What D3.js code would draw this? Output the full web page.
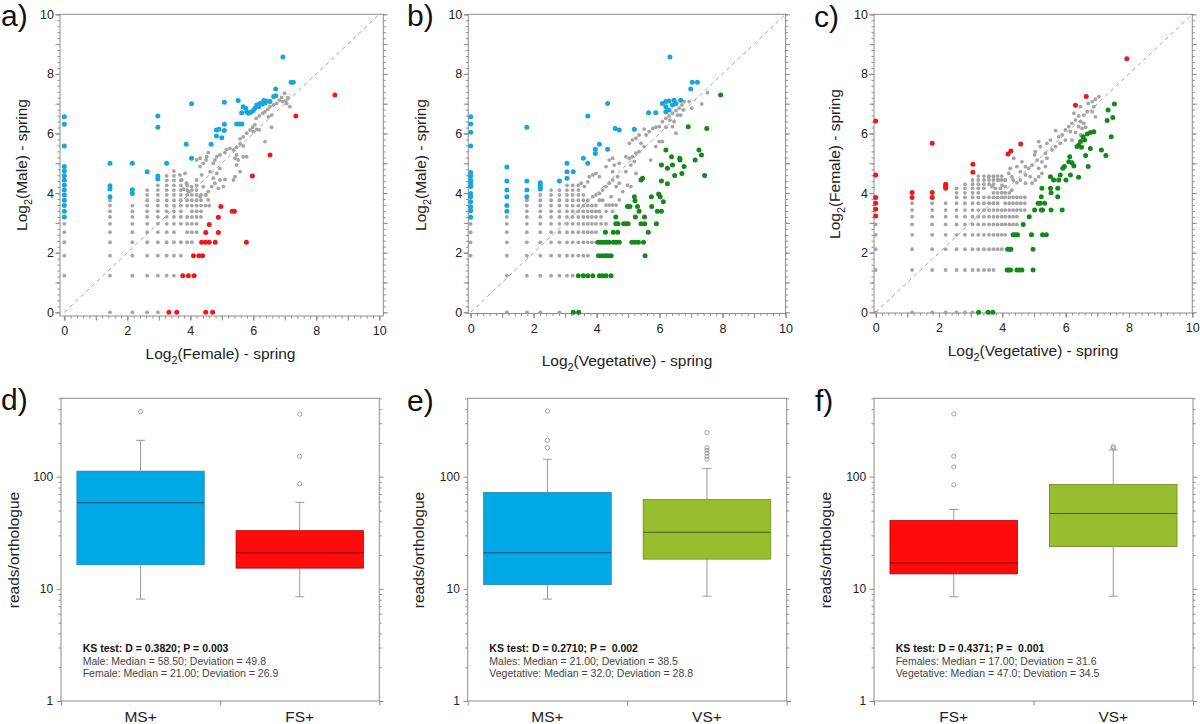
<!DOCTYPE html>
<html><head><meta charset="utf-8">
<script src="https://cdnjs.cloudflare.com/ajax/libs/d3/7.8.5/d3.min.js"></script>
<style>
body{margin:0;background:#fff}
svg{display:block}
text{font-family:"Liberation Sans",Arial,Helvetica,sans-serif}
</style>
</head><body>
<svg id="chart" width="1200" height="724"></svg>
<script>
// ---------------- DATA ----------------
// Panel a: Log2(Female) (x) vs Log2(Male) (y)
const aGridRows = [
  [0,    [1.45, 2.16, 2.63, 2.97]],
  [1.23, [0, 1.45, 2.16, 2.63, 2.97, 3.25, 3.48]],
  [1.90, [0, 1.45, 2.16, 2.63, 2.97, 3.25, 3.48, 3.70]],
  [2.35, [0, 1.45, 2.16, 2.63, 2.97, 3.25, 3.48, 3.70, 3.90, 4.05]],
  [2.69, [0, 1.45, 2.16, 2.63, 2.97, 3.25, 3.48, 3.90, 4.05, 4.20]],
  [2.97, [0, 1.45, 2.16, 2.63, 2.97, 3.25, 3.48, 3.70, 3.90, 4.05, 4.20]],
  [3.20, [1.45, 2.16, 2.63, 2.97, 3.25, 3.48, 3.70, 3.90, 4.05, 4.20, 4.34]],
  [3.39, [1.45, 2.16, 2.63, 2.97, 3.25, 3.48, 3.70, 4.05, 4.20, 4.34]],
  [3.58, [1.45, 2.16, 2.63, 2.97, 3.25, 3.48, 3.70, 3.90, 4.05, 4.20, 4.34, 4.48, 4.60]],
  [3.76, [1.45, 2.63, 2.97, 3.25, 3.48, 3.70, 3.90, 4.05, 4.20, 4.34]],
  [3.94, [2.63, 2.97, 3.25, 3.48, 3.70, 3.90, 4.05, 4.20, 4.34, 4.48]],
  [4.10, [2.63, 2.97, 3.25, 3.48, 3.70, 3.90, 4.05, 4.20]],
  [4.26, [2.97, 3.25, 3.48, 3.70, 3.90, 4.20]],
  [4.43, [3.25, 3.48, 3.70]],
  [4.58, [3.25, 3.48]],
  [4.74, [3.48]]
];
const aGrayBand = [[6.99,7.35],[6.90,7.21],[6.83,7.12],[6.93,7.07],[7.06,7.01],[7.16,6.90],[7.10,7.20],[7.03,7.10],[6.74,7.01],[6.64,6.96],[6.53,6.90],[6.46,6.81],[6.37,6.73],[6.30,6.68],[6.19,6.59],[6.09,6.51],[6.48,6.56],[6.58,6.62],[6.05,6.29],[5.98,6.21],[6.11,6.14],[5.90,6.12],[6.19,6.12],[5.79,6.01],[5.68,5.89],[5.58,5.82],[6.00,6.06],[6.58,6.21],[6.37,5.73],[5.58,5.65],[5.68,5.58],[5.47,5.54],[5.37,5.45],[5.26,5.50],[5.15,5.47],[5.10,5.36],[4.94,5.28],[4.84,5.22],[4.78,5.11],[4.73,5.00],[4.57,5.36],[4.52,5.22],[4.50,5.11],[4.41,5.00],[4.31,5.17],[4.20,5.11],[4.31,4.89],[5.47,5.28],[5.42,5.17],[5.52,5.11],[5.68,5.22],[5.79,5.22],[5.47,4.94],[5.58,4.72],[5.42,4.55],[5.37,4.44],[5.10,4.46],[4.94,4.44],[4.84,4.66],[4.94,4.83],[5.05,4.22],[4.89,4.16],[4.78,4.33],[4.68,4.22],[4.57,4.05],[4.41,4.22],[4.50,3.94],[4.31,3.88],[4.57,3.77],[4.73,4.50],[4.63,4.72],[4.36,4.61],[4.20,4.44],[4.04,4.22],[3.94,4.05],[3.88,4.33],[3.78,4.13],[3.73,4.44],[3.67,4.61],[3.83,4.66]];
const aBlue = [[0,6.56],[0,6.31],[0,5.58],[0,4.89],[0,4.74],[0,4.58],[0,4.43],[0,4.26],[0,4.10],[0,3.94],[0,3.76],[0,3.58],[0,3.39],[0,3.20],
  [1.45,5.00],[1.45,4.25],[1.45,4.14],[1.45,3.88],[2.16,5.00],[2.16,4.11],[2.16,3.99],[2.63,4.72],
  [2.97,6.59],[2.97,6.21],[2.97,4.57],[2.97,4.47],[3.25,5.00],[3.87,5.64],[4.04,7.00],[4.04,5.17],[4.66,5.64],
  [4.83,6.12],[4.91,6.14],[4.83,5.92],[5.00,5.86],[5.08,6.31],[5.08,6.10],[5.08,7.05],
  [5.47,6.32],[5.56,6.32],[5.64,6.32],[5.52,7.11],[5.68,6.90],[5.76,6.85],[5.63,6.70],
  [6.33,7.11],[6.42,7.09],[6.53,7.07],[6.21,7.01],[6.29,6.99],[6.38,7.03],[6.11,6.96],[6.17,6.90],[6.05,6.85],[6.00,6.77],[5.92,6.71],[5.84,6.68],[5.79,6.73],
  [6.71,7.49],[6.71,7.27],[6.65,7.24],[7.20,7.72],[7.27,7.72],[6.94,8.57]];
const aRed = [[8.59,7.29],[7.35,6.59],[6.53,5.28],[5.97,4.57],[4.97,3.55],[5.33,3.39],[5.40,3.39],[4.89,3.19],[4.60,2.95],[4.49,2.68],[4.89,2.68],
  [4.36,2.35],[4.48,2.35],[4.60,2.35],[4.79,2.35],[5.78,2.35],[4.10,1.90],[4.27,1.90],[4.39,1.90],[3.76,1.23],[3.94,1.23],[4.12,1.23],
  [3.32,0],[3.57,0],[4.49,0],[4.71,0]];

// Panel b: Log2(Vegetative) (x) vs Log2(Male) (y)
const bGridRows = [
  [0,    [1.15, 1.785, 2.21, 2.82]],
  [1.23, [1.15, 1.785, 2.21, 2.555, 2.82, 3.06, 3.24]],
  [1.90, [0, 1.15, 1.785, 2.21, 2.555, 2.82, 3.06, 3.24, 3.42, 3.58, 3.72]],
  [2.35, [0, 1.15, 1.785, 2.21, 2.555, 2.82, 3.06, 3.24, 3.42, 3.58, 3.72, 3.85, 3.98]],
  [2.69, [0, 1.15, 1.785, 2.21, 2.555, 2.82, 3.06, 3.24, 3.42, 3.58, 3.72, 3.85, 3.98]],
  [2.97, [0, 1.15, 1.785, 2.21, 2.555, 2.82, 3.06, 3.24, 3.42, 3.58, 3.72, 3.85, 3.98, 4.14, 4.30]],
  [3.20, [1.15, 1.785, 2.21, 2.555, 2.82, 3.06, 3.24, 3.42, 3.58, 3.72, 3.85, 3.98, 4.14]],
  [3.39, [1.785, 2.21, 2.555, 2.82, 3.06, 3.24, 3.42, 3.58, 3.72, 3.85, 3.98, 4.09, 4.30, 4.51]],
  [3.58, [1.785, 2.21, 2.555, 2.82, 3.06, 3.24, 3.42, 3.58, 3.72, 3.85, 3.98]],
  [3.76, [1.785, 2.21, 2.555, 2.82, 3.06, 3.24, 3.42, 3.58, 3.72, 4.09, 4.19]],
  [3.94, [2.21, 2.555, 2.82, 3.06, 3.24, 3.42, 3.58]],
  [4.10, [2.555, 2.82, 3.06, 3.24, 3.42]],
  [4.26, [3.06, 3.24, 3.42]]
];
const bGrayBand = [[7.52,7.37],[7.34,6.99],[7.02,6.85],[6.94,7.07],[6.78,7.07],[6.71,6.96],[6.62,6.85],[6.75,6.79],[6.52,6.77],[6.41,6.68],[6.30,6.59],[6.57,6.62],[6.67,6.62],[6.20,6.51],[6.33,6.45],[6.46,6.40],[6.09,6.40],[5.99,6.23],[5.88,6.21],[5.78,6.17],[6.20,6.21],[6.41,6.23],[6.52,6.01],[5.51,6.15],[5.67,6.06],[5.57,5.95],[5.35,5.95],[5.25,5.84],[5.14,5.78],[5.04,5.67],[5.41,5.67],[5.51,5.56],[5.88,5.56],[5.99,5.73],[6.09,5.73],[5.72,5.11],[5.35,5.39],[5.25,5.34],[5.14,5.22],[5.04,5.17],[4.93,5.22],[5.20,5.06],[5.09,4.94],[5.25,4.66],[4.93,4.72],[4.72,5.00],[4.51,5.17],[4.40,5.11],[4.56,4.94],[4.30,4.89],[4.51,4.72],[4.67,4.55],[4.51,4.44],[4.40,4.33],[4.62,4.22],[4.72,4.33],[4.30,4.22],[4.19,4.10],[4.09,4.55],[3.98,4.66],[3.88,4.61],[3.77,4.55],[4.09,3.99],[3.98,3.94],[3.88,3.88],[3.72,4.38],[3.61,4.22],[3.51,4.33],[4.46,3.88],[4.62,3.60],[4.72,3.77],[4.83,4.05],[4.98,4.27],[5.09,4.22],[4.30,3.60],[4.40,3.60],[4.51,3.60]];
const bBlue = [[0,6.56],[0,6.32],[0,6.04],[0,5.58],[0,4.69],[0,4.58],[0,4.44],[0,4.33],[0,4.22],[0,3.99],[0,3.88],[0,3.71],[0,3.54],[0,3.41],[0,3.19],
  [1.15,4.88],[1.15,4.41],[1.15,4.10],[1.15,3.88],[1.15,3.58],[1.15,3.39],[1.785,6.21],[1.785,4.41],[1.785,4.10],[1.785,3.88],
  [2.21,4.35],[2.21,4.27],[2.21,4.21],[2.21,4.14],[2.82,4.41],[3.06,5.00],[3.06,4.72],[3.06,4.50],[3.26,4.72],[3.58,5.17],[3.72,5.00],[3.72,6.59],
  [3.96,5.33],[3.96,5.47],[4.09,5.64],[4.35,5.47],[4.35,7.01],[4.59,6.17],[4.72,6.12],[5.20,6.14],[5.65,6.70],[5.88,6.70],
  [6.09,7.01],[6.20,7.07],[6.30,7.09],[6.46,7.12],[6.67,7.12],[6.20,6.90],[6.30,6.79],[6.41,6.96],[6.20,6.73],[6.52,7.01],
  [6.99,7.49],[7.04,7.72],[7.20,7.72],[6.33,8.57]];
const bGreen = [[7.94,7.29],[6.91,6.23],[7.50,6.17],[6.20,5.45],[6.38,5.22],[6.64,5.17],[6.65,5.11],[7.25,5.45],[7.33,5.28],[7.13,5.11],[6.06,4.94],[6.25,4.83],[6.41,4.94],[6.78,4.89],[6.48,4.59],[6.71,4.66],[6.06,4.41],[6.25,4.31],[7.43,4.59],[5.41,4.44],[5.46,4.50],
  [5.20,3.88],[5.22,3.74],[4.98,3.55],[5.06,3.55],[5.30,3.55],[5.35,3.39],[5.74,3.88],[5.97,3.97],[6.02,3.88],[6.12,3.71],[5.75,3.55],[5.93,3.39],[6.06,3.39],[5.23,3.20],[5.52,3.20],[5.90,2.97],[4.61,3.20],
  [4.61,2.97],[4.68,2.97],[4.86,2.97],[4.93,2.97],[5.00,2.97],[5.41,2.97],[5.53,2.97],[4.28,2.69],[4.53,2.69],[4.67,2.69],[5.64,2.69],
  [4.05,2.35],[4.14,2.35],[4.22,2.35],[4.31,2.35],[4.40,2.35],[4.53,2.35],[4.62,2.35],[4.72,2.35],[5.12,2.35],[5.22,2.35],[5.33,2.35],[5.49,2.35],
  [4.06,1.90],[4.17,1.90],[4.27,1.90],[4.36,1.90],[4.46,1.90],[5.54,1.90],
  [3.42,1.23],[3.58,1.23],[3.72,1.23],[3.88,1.23],[4.09,1.23],[4.19,1.23],[4.30,1.23],[4.46,1.23],[3.26,0],[3.43,0]];

// Panel c: Log2(Vegetative) (x) vs Log2(Female) (y)
const cGridRows = [
  [0,    [0, 1.15, 1.785, 2.21, 2.555, 2.82, 3.06]],
  [1.42, [0, 1.15, 1.785, 2.21, 2.555, 2.82, 3.06, 3.24, 3.42, 3.58, 3.72]],
  [2.12, [0, 1.15, 1.785, 2.21, 2.555, 2.82, 3.06, 3.24, 3.42, 3.58, 3.72, 3.85, 3.98]],
  [2.60, [0, 1.15, 1.785, 2.21, 2.555, 2.82, 3.06, 3.24, 3.42, 3.58, 3.72, 3.85, 3.98, 4.09]],
  [2.95, [0, 1.15, 1.785, 2.21, 2.555, 2.82, 3.06, 3.24, 3.42, 3.58, 3.72, 3.85, 3.98, 4.09, 4.22, 4.34, 4.46]],
  [3.21, [1.15, 1.785, 2.21, 2.555, 2.82, 3.06, 3.24, 3.42, 3.58, 3.72, 3.85, 3.98, 4.09, 4.22, 4.34, 4.46]],
  [3.43, [1.15, 1.785, 2.21, 2.555, 2.82, 3.06, 3.24, 3.42, 3.58, 3.72, 3.85, 3.98, 4.09, 4.22, 4.34, 4.46, 4.58, 4.71]],
  [3.66, [1.15, 1.785, 2.21, 2.555, 2.82, 3.06, 3.24, 3.42, 3.58, 3.72, 3.85, 4.09, 4.22, 4.34, 4.46, 4.58, 4.71]],
  [3.86, [2.555, 2.82, 3.06, 3.24, 3.42, 3.58, 3.72, 3.85, 3.98, 4.09, 4.22, 4.34, 4.46, 4.58, 4.71]],
  [4.01, [2.555, 2.82, 3.06, 3.24, 3.72, 3.85, 3.98, 4.09, 4.22]],
  [4.16, [2.555, 2.82, 3.06, 3.24, 3.42, 3.78, 3.94]],
  [4.30, [2.82, 3.06, 3.24, 3.42, 3.58, 3.72]],
  [4.44, [3.06, 3.24, 3.42, 3.58, 3.72, 3.85, 3.98, 4.09, 4.34]],
  [4.57, [3.24, 3.42, 3.58, 3.72, 3.85, 3.98]]
];
const cGrayBand = [[7.05,7.24],[6.94,7.15],[6.84,7.07],[6.71,7.01],[6.47,6.90],[6.89,6.90],[6.84,6.73],[6.94,6.56],[6.68,6.73],[6.57,6.62],[6.41,6.59],[6.26,6.68],[6.31,6.45],[6.47,6.40],[6.57,6.34],[6.63,6.21],[6.52,6.17],[6.41,6.23],[6.20,6.34],[6.10,6.23],[5.99,6.12],[6.15,6.06],[6.31,6.03],[6.47,5.95],[6.20,5.78],[5.99,5.78],[5.89,5.95],[5.78,5.89],[5.68,6.10],[5.83,5.67],[5.68,5.56],[5.52,5.78],[5.41,5.67],[5.57,5.45],[5.36,5.33],[5.20,5.56],[5.15,5.73],[5.04,5.39],[5.02,5.28],[5.10,5.11],[5.25,5.05],[5.41,5.17],[5.36,4.89],[5.15,4.83],[4.94,4.94],[4.83,4.83],[4.73,4.89],[4.62,5.05],[4.36,5.17],[4.57,4.72],[4.73,4.61],[4.88,4.55],[5.04,4.44],[5.15,4.55],[5.25,4.66],[4.94,4.33],[4.73,4.33],[4.57,4.44],[4.46,4.35],[4.30,4.55],[4.20,4.66],[4.09,4.44],[3.99,4.27],[3.88,4.44],[3.72,4.55],[3.57,4.55],[3.67,4.22],[4.46,4.89],[4.25,4.83],[4.09,4.22],[4.30,4.10]];
const cRed = [[0,6.42],[0,4.61],[0,3.85],[0,3.66],[0,3.46],[0,3.23],[1.15,4.02],[1.15,3.85],[1.785,5.67],[1.785,4.02],[1.785,3.85],
  [2.21,4.30],[2.21,4.22],[2.21,4.16],[3.07,4.97],[3.07,4.70],[4.18,5.31],[4.27,5.41],[4.58,5.65],[6.31,6.95],[6.65,7.24],[7.93,8.51]];
const cGreen = [[7.54,6.99],[7.34,6.79],[7.49,6.54],[7.31,6.44],[7.44,5.89],[7.13,5.45],[7.27,5.26],[6.89,6.06],[6.78,6.03],[6.68,5.98],[6.55,5.89],[6.60,5.78],[6.47,5.73],[6.41,5.61],[6.36,5.56],[6.50,5.54],[6.78,5.50],[6.63,5.26],[6.71,4.89],[6.41,4.53],
  [6.13,5.22],[6.10,5.05],[6.20,5.02],[6.26,4.91],[5.96,4.89],[5.83,4.61],[6.01,4.44],[6.15,4.61],[5.91,4.83],[5.52,4.55],[5.62,4.44],[5.78,4.44],[5.52,4.16],[5.54,4.01],[5.75,4.16],[5.75,3.88],[5.25,4.16],[5.23,3.88],
  [5.13,3.66],[5.20,3.66],[5.34,3.66],[5.02,3.43],[5.23,3.43],[5.27,3.43],[5.54,3.43],[5.89,3.43],[4.85,3.21],[4.66,2.95],
  [4.34,2.60],[4.41,2.60],[4.48,2.60],[4.92,2.60],[5.27,2.60],[5.39,2.60],[4.17,2.12],[4.23,2.12],[4.27,2.12],[4.97,2.12],
  [4.15,1.42],[4.20,1.42],[4.26,1.42],[4.46,1.42],[4.54,1.42],[4.62,1.42],[4.97,1.42],[3.25,0],[3.55,0],[3.70,0]];

// Box plots (reads/orthologue)
const boxD = [
  {cat:"MS+", lo:8.1, q1:16.4, med:58.5, q3:112, hi:211, out:[380]},
  {cat:"FS+", lo:8.5, q1:15.3, med:21, q3:33, hi:59, out:[361, 152, 86.5]}
];
const boxE = [
  {cat:"MS+", lo:8.1, q1:10.9, med:21, q3:72.3, hi:143, out:[385, 211, 181]},
  {cat:"VS+", lo:8.6, q1:18.4, med:32, q3:62.6, hi:118, out:[247, 181, 172, 162, 152, 143]}
];
const boxF = [
  {cat:"FS+", lo:8.5, q1:13.6, med:17, q3:40.6, hi:51, out:[363, 152, 122, 84.7]},
  {cat:"VS+", lo:8.6, q1:23.8, med:47, q3:85.3, hi:173, out:[185, 180]}
];
const ksD = ["KS test: D = 0.3820; P = 0.003", "Male: Median = 58.50; Deviation = 49.8", "Female: Median = 21.00; Deviation = 26.9"];
const ksE = ["KS test: D = 0.2710; P =  0.002", "Males: Median = 21.00; Deviation = 38.5", "Vegetative: Median = 32.0; Deviation = 28.8"];
const ksF = ["KS test: D = 0.4371; P =  0.001", "Females: Median = 17.00; Deviation = 31.6", "Vegetative: Median = 47.0; Deviation = 34.5"];

const scatterTicks = [0, 2, 4, 6, 8, 10];
const boxTicks = [1, 10, 100];
const boxMinor = [2,3,4,5,6,7,8,9,20,30,40,50,60,70,80,90,200,300,400,500];

// ---------------- STYLE ----------------
const COL = {gray:"#a4a4a4", blue:"#18a5de", red:"#ea1a1c", green:"#16871c", axis:"#8e8e8e", text:"#222"};
const BOXCOL = {"MS+":["#00a9e6","#2b82ad","#1f5570"], "FS+":["#ff0b0b","#b80000","#8a0000"], "VS+":["#98bd2f","#6f8c22","#4b5f15"]};
const FONT = '"Liberation Sans",Arial,Helvetica,sans-serif';

const svg = d3.select("#chart");

function styleAxis(a, fs) {
  a.select(".domain").remove();
  a.selectAll("line").attr("stroke", COL.axis).attr("stroke-width", 1);
  a.selectAll("text").attr("fill", COL.text).style("font-size", fs).style("font-family", FONT);
}
function addAxis(g, tr, gen, vals, size, fmt, pad, fs) {
  const a = g.append("g").attr("transform", tr)
    .call(gen.tickValues(vals).tickSize(size).tickPadding(pad || 2).tickFormat(fmt || (() => "")));
  styleAxis(a, fs || "12.5px");
  return a;
}
function subTitle(x, y, rot, pre, sub, post, size) {
  const t = svg.append("text").attr("transform", `translate(${x},${y}) rotate(${rot})`)
    .attr("text-anchor", "middle").attr("fill", COL.text).style("font-size", size + "px");
  t.append("tspan").text(pre);
  t.append("tspan").text(sub).style("font-size", (size * 0.7) + "px").attr("dy", size * 0.32);
  t.append("tspan").text(post).attr("dy", -size * 0.32);
}
function panelLabel(x, y, s) {
  svg.append("text").attr("x", x).attr("y", y).text(s).attr("fill", "#111").style("font-size", "30px");
}

function scatter(p) {
  const g = svg.append("g");
  const x = d3.scaleLinear().domain(p.xd).range([p.l, p.r]);
  const y = d3.scaleLinear().domain(p.yd).range([p.b, p.t]);
  const minor = d3.range(0, 51).map(i => i / 5);
  const ints = d3.range(0, 11);
  addAxis(g, `translate(0,${p.b})`, d3.axisBottom(x), minor, 2.5);
  addAxis(g, `translate(0,${p.b})`, d3.axisBottom(x), ints, 4.5);
  addAxis(g, `translate(0,${p.b})`, d3.axisBottom(x), scatterTicks, 4.5, d3.format("d"), 6);
  addAxis(g, `translate(${p.l},0)`, d3.axisLeft(y), minor, 2.5);
  addAxis(g, `translate(${p.l},0)`, d3.axisLeft(y), ints, 4.5);
  addAxis(g, `translate(${p.l},0)`, d3.axisLeft(y), scatterTicks, 4.5, d3.format("d"), 1.5);
  addAxis(g, `translate(${p.r},0)`, d3.axisRight(y), minor, 2.5);
  addAxis(g, `translate(${p.r},0)`, d3.axisRight(y), ints, 4.5);
  g.append("rect").attr("x", p.l).attr("y", p.t).attr("width", p.r - p.l).attr("height", p.b - p.t)
    .attr("fill", "none").attr("stroke", COL.axis).attr("stroke-width", 1);
  g.append("line").attr("x1", x(0)).attr("y1", y(0)).attr("x2", x(10)).attr("y2", y(10))
    .attr("stroke", "#999").attr("stroke-width", 0.9).attr("stroke-dasharray", "4,3.5");
  const grid = p.rows.flatMap(([yy, xs]) => xs.map(xx => [xx, yy]));
  const gray = grid.concat(p.band);
  g.append("g").selectAll("circle").data(gray).join("circle")
    .attr("cx", d => x(d[0])).attr("cy", d => y(d[1])).attr("r", 1.9).attr("fill", COL.gray);
  p.sets.forEach(([data, col]) => {
    g.append("g").selectAll("circle").data(data).join("circle")
      .attr("cx", d => x(d[0])).attr("cy", d => y(d[1])).attr("r", 2.5).attr("fill", col);
  });
  subTitle(p.xt[0], p.xt[1], 0, "Log", "2", p.xlab, 15.5);
  subTitle(p.yt[0], p.yt[1], -90, "Log", "2", p.ylab, 15.5);
}

function boxplot(p) {
  const g = svg.append("g");
  const x = d3.scaleBand().domain(p.data.map(d => d.cat)).range([p.l, p.r]).paddingInner(0.2).paddingOuter(0.1);
  const y = d3.scaleLog().domain([1, 500]).range([p.b, p.t]);
  const xl = d3.scaleLinear().domain([0, 2]).range([p.l, p.r]);
  addAxis(g, `translate(${p.l},0)`, d3.axisLeft(y), boxMinor, 2.5, null, 2, "12px");
  addAxis(g, `translate(${p.l},0)`, d3.axisLeft(y), boxTicks, 4.3, d3.format("d"), 3.5, "12px");
  addAxis(g, `translate(${p.r},0)`, d3.axisRight(y), boxMinor, 2.5);
  addAxis(g, `translate(${p.r},0)`, d3.axisRight(y), boxTicks, 4.3);
  addAxis(g, `translate(0,${p.b})`, d3.axisBottom(xl), [0, 1, 2], 4.5);
  g.append("rect").attr("x", p.l).attr("y", p.t).attr("width", p.r - p.l).attr("height", p.b - p.t)
    .attr("fill", "none").attr("stroke", COL.axis).attr("stroke-width", 1);
  const bw = x.bandwidth();
  p.data.forEach(d => {
    const cx = x(d.cat) + bw / 2;
    const c = BOXCOL[d.cat];
    [[d.q3, d.hi], [d.q1, d.lo]].forEach(([a, b]) => {
      g.append("line").attr("x1", cx).attr("x2", cx).attr("y1", y(a)).attr("y2", y(b)).attr("stroke", "#9a9a9a").attr("stroke-width", 1);
      g.append("line").attr("x1", cx - 4.5).attr("x2", cx + 4.5).attr("y1", y(b)).attr("y2", y(b)).attr("stroke", "#9a9a9a").attr("stroke-width", 1);
    });
    g.append("rect").attr("x", x(d.cat)).attr("y", y(d.q3)).attr("width", bw).attr("height", y(d.q1) - y(d.q3))
      .attr("fill", c[0]).attr("stroke", c[1]).attr("stroke-width", 0.8);
    g.append("line").attr("x1", x(d.cat)).attr("x2", x(d.cat) + bw).attr("y1", y(d.med)).attr("y2", y(d.med))
      .attr("stroke", c[2]).attr("stroke-width", 1.1);
    g.append("g").selectAll("circle").data(d.out).join("circle")
      .attr("cx", cx).attr("cy", v => y(v)).attr("r", 2.1).attr("fill", "none").attr("stroke", "#8a8a8a").attr("stroke-width", 0.8);
    g.append("text").attr("x", cx).attr("y", 722).attr("text-anchor", "middle").text(d.cat)
      .attr("fill", COL.text).style("font-size", "15.5px");
  });
  p.ks.forEach((s, i) => {
    g.append("text").attr("x", p.kx).attr("y", 652 + i * 12.5).text(s)
      .attr("fill", i === 0 ? "#111" : "#444").style("font-size", "10.5px")
      .style("font-weight", i === 0 ? "bold" : "normal").style("white-space", "pre");
  });
  svg.append("text").attr("transform", `translate(${p.yt},550) rotate(-90)`).attr("text-anchor", "middle")
    .text("reads/orthologue").attr("fill", COL.text).style("font-size", "15.5px");
}

scatter({l:60, r:383.3, t:14.3, b:316, xd:[-0.137, 10.127], yd:[-0.124, 10],
  rows:aGridRows, band:aGrayBand, sets:[[aBlue, COL.blue], [aRed, COL.red]],
  xt:[220.5, 359], yt:[27, 165], xlab:"(Female) - spring", ylab:"(Male) - spring"});
scatter({l:468.3, r:785.5, t:14.3, b:313.5, xd:[-0.075, 10], yd:[-0.04, 10],
  rows:bGridRows, band:bGrayBand, sets:[[bBlue, COL.blue], [bGreen, COL.green]],
  xt:[627, 366], yt:[426, 165], xlab:"(Vegetative) - spring", ylab:"(Male) - spring"});
scatter({l:874, r:1192.3, t:14.3, b:313, xd:[-0.053, 10], yd:[-0.023, 10],
  rows:cGridRows, band:cGrayBand, sets:[[cRed, COL.red], [cGreen, COL.green]],
  xt:[1033, 356], yt:[840, 164], xlab:"(Vegetative) - spring", ylab:"(Female) - spring"});

boxplot({l:61, r:379.3, t:398.3, b:701, data:boxD, ks:ksD, kx:82.7, yt:19});
boxplot({l:467.7, r:786.7, t:398.3, b:701, data:boxE, ks:ksE, kx:489.3, yt:424});
boxplot({l:874, r:1193, t:398.3, b:701, data:boxF, ks:ksF, kx:895.7, yt:831});

panelLabel(1, 26, "a)");
panelLabel(407, 26, "b)");
panelLabel(814, 27, "c)");
panelLabel(1, 410, "d)");
panelLabel(407, 411, "e)");
panelLabel(815, 411, "f)");
</script>
</body></html>
